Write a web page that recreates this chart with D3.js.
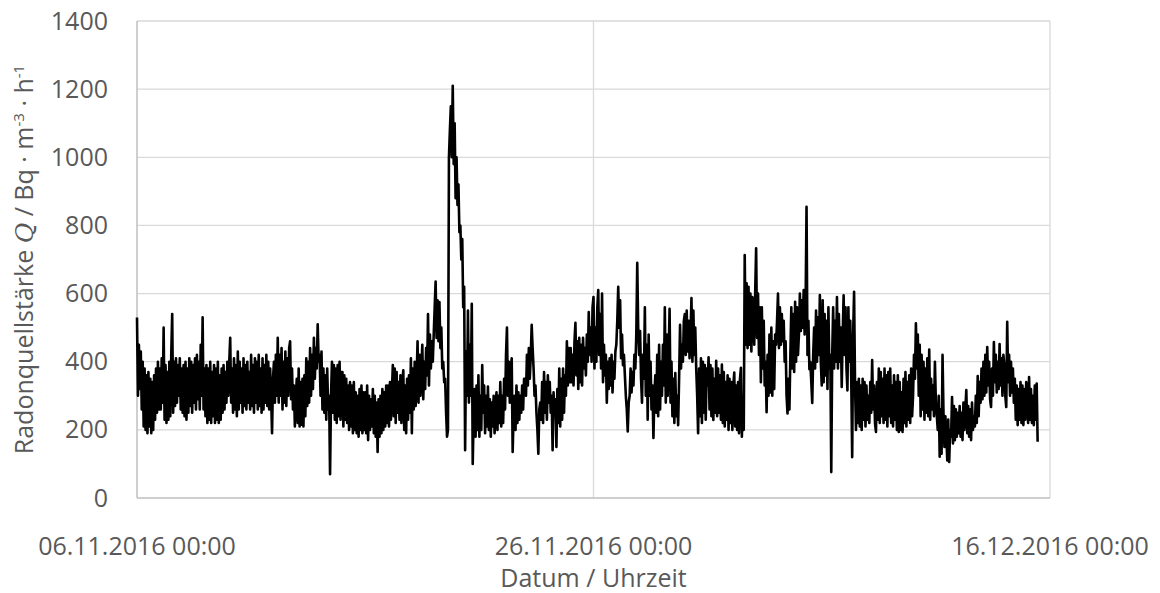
<script src="https://d3js.org/d3.v7.min.js"></script>
<style>
  body { margin: 0; background: #fff; }
  text { font-family: "Open Sans", "Noto Sans", sans-serif; fill: #595959; }
</style>
<body>
<svg id="vis"></svg>
<script>
  var visWidth = 1160
  var visHeight = 593
  var margin = {top: 21, right: 110, bottom: 95, left: 137}

  // measurement start and spacing of the readings (hours)
  var startTime = Date.UTC(2016, 10, 6, 0, 0)
  var stepHours = 1

  // Radon source strength Q, hourly readings, one row per day
  var week1 = [
    530, 300, 450, 320, 430, 260, 400, 210, 380, 200, 360, 190, 370, 210, 350, 190, 340, 200, 360, 230, 380, 250, 400, 260,   // 06.11
    380, 260, 410, 280, 500, 230, 390, 220, 370, 230, 400, 240, 420, 540, 250, 400, 270, 410, 280, 390, 300, 410, 260, 380,
    250, 390, 240, 400, 230, 380, 250, 410, 270, 400, 250, 390, 280, 410, 260, 420, 290, 400, 260, 450, 300, 530, 260, 380,
    240, 390, 220, 380, 230, 400, 220, 370, 240, 390, 220, 380, 230, 400, 220, 360, 230, 380, 250, 390, 260, 370, 280, 400,
    300, 400, 470, 280, 380, 250, 410, 260, 390, 240, 430, 260, 400, 280, 380, 250, 410, 270, 390, 260, 400, 280, 370, 260,
    420, 270, 390, 250, 410, 280, 400, 260, 420, 270, 380, 250, 410, 260, 390, 280, 420, 270, 400, 260, 380, 300, 190, 350,
    400, 280, 420, 300, 470, 280, 420, 300, 440, 260, 400, 280, 430, 270, 410, 300, 440, 460, 290, 380, 260, 330, 210, 300
  ]
  var week2 = [
    350, 220, 380, 210, 340, 215, 350, 210, 360, 240, 410, 270, 400, 280, 440, 300, 420, 320, 470, 350, 440, 380, 510, 400,   // 13.11
    420, 300, 430, 260, 380, 250, 360, 230, 380, 260, 300, 70, 300, 400, 250, 390, 230, 380, 220, 390, 240, 400, 230, 370,
    370, 210, 360, 230, 350, 220, 330, 200, 340, 210, 330, 190, 340, 200, 310, 190, 300, 180, 320, 200, 330, 190, 310, 200,
    310, 190, 330, 170, 300, 200, 290, 210, 320, 190, 300, 180, 280, 135, 290, 180, 300, 190, 320, 200, 310, 210, 330, 220,
    330, 210, 340, 230, 310, 390, 240, 380, 220, 370, 250, 340, 230, 360, 220, 340, 375, 200, 330, 190, 350, 230, 360, 250,
    410, 190, 380, 260, 400, 270, 350, 460, 280, 420, 300, 380, 450, 290, 400, 320, 440, 360, 540, 330, 480, 380, 460, 400,
    480, 560, 635, 470, 580, 460, 575, 440, 500, 380, 400, 340, 350, 250, 180, 200, 1000, 1080, 1150, 1000, 1210, 980, 1100, 880
  ]
  var week3 = [
    1000, 860, 920, 780, 800, 700, 760, 560, 620, 140, 430, 300, 550, 280, 450, 300, 570, 100, 250, 320, 180, 330, 200, 360,   // 20.11
    180, 300, 200, 390, 250, 330, 190, 300, 210, 327, 200, 290, 180, 280, 210, 300, 190, 270, 310, 200, 300, 220, 340, 210,
    300, 220, 350, 260, 420, 500, 300, 400, 280, 380, 410, 135, 250, 300, 200, 330, 220, 310, 230, 300, 250, 330, 260, 350,
    350, 300, 420, 330, 440, 350, 414, 508, 440, 380, 300, 330, 250, 200, 130, 260, 280, 230, 340, 220, 370, 250, 340, 230,
    360, 280, 340, 250, 300, 140, 310, 240, 290, 150, 320, 220, 380, 210, 350, 230, 380, 250, 360, 300, 460, 330, 440, 340,
    440, 340, 420, 330, 460, 514, 360, 460, 320, 470, 340, 450, 330, 470, 380, 440, 360, 480, 400, 546, 420, 500, 400, 560,
    590, 380, 500, 400, 560, 610, 420, 540, 380, 600, 340, 450, 360, 420, 280, 400, 320, 410, 330, 420, 310, 400, 350, 430    // 26.11
  ]
  var week4 = [
    450, 520, 620, 500, 580, 410, 480, 390, 420, 360, 300, 260, 195, 280, 300, 380, 310, 370, 330, 420, 380, 480, 690, 500,   // 27.11
    420, 490, 350, 280, 420, 350, 560, 300, 450, 230, 480, 300, 400, 260, 330, 176, 300, 360, 250, 420, 240, 450, 260, 400,
    300, 450, 330, 560, 280, 480, 300, 420, 555, 280, 400, 240, 350, 220, 367, 240, 300, 214, 350, 508, 380, 450, 400, 520,
    540, 420, 550, 430, 520, 410, 480, 587, 400, 550, 420, 500, 380, 300, 190, 380, 240, 410, 220, 400, 250, 390, 230, 380,
    330, 413, 260, 390, 240, 380, 229, 350, 250, 403, 240, 380, 250, 360, 230, 392, 220, 370, 210, 340, 230, 360, 200, 350,
    220, 340, 200, 330, 368, 210, 330, 200, 340, 190, 350, 382, 180, 300, 200, 713, 450, 630, 440, 620, 450, 600, 430, 590,
    580, 450, 600, 733, 470, 600, 420, 560, 340, 560, 380, 520, 330, 400, 252, 420, 300, 480, 310, 500, 300, 460, 320, 480
  ]
  var week5 = [
    450, 520, 600, 440, 560, 450, 540, 460, 520, 400, 460, 300, 248, 350, 260, 420, 560, 380, 540, 370, 576, 400, 560, 420,   // 04.12
    480, 600, 490, 580, 500, 610, 480, 560, 855, 420, 520, 378, 400, 340, 279, 420, 500, 380, 550, 400, 530, 420, 596, 400,
    330, 580, 340, 540, 360, 520, 320, 560, 380, 420, 76, 420, 560, 380, 520, 400, 590, 380, 540, 400, 500, 326, 480, 595,
    420, 560, 380, 316, 560, 400, 520, 350, 120, 480, 605, 330, 200, 340, 220, 350, 210, 330, 200, 350, 230, 340, 210, 330,
    230, 300, 220, 340, 250, 405, 260, 330, 220, 194, 340, 230, 380, 220, 370, 240, 350, 220, 380, 230, 360, 210, 370, 240,
    380, 220, 330, 210, 360, 230, 340, 200, 360, 194, 340, 200, 310, 194, 350, 220, 370, 210, 340, 230, 360, 220, 380, 240,
    300, 420, 350, 513, 380, 480, 300, 450, 240, 420, 260, 400, 230, 380, 250, 410, 240, 436, 230, 350, 260, 330, 240, 400
  ]
  var week6 = [
    280, 240, 200, 300, 121, 260, 130, 420, 250, 150, 240, 180, 110, 230, 106, 200, 180, 296, 160, 270, 170, 260, 180, 250,   // 11.12
    190, 270, 180, 250, 170, 280, 200, 260, 317, 190, 270, 180, 260, 170, 280, 200, 240, 210, 300, 220, 358, 240, 340, 280,
    380, 290, 400, 300, 420, 310, 443, 330, 400, 290, 267, 380, 300, 458, 340, 420, 310, 400, 320, 452, 330, 410, 300, 420,
    390, 300, 267, 517, 340, 420, 300, 400, 310, 380, 280, 350, 230, 330, 214, 320, 230, 340, 220, 330, 214, 320, 230, 340,
    300, 220, 355, 230, 320, 220, 300, 214, 330, 230, 336, 165                                                              // 15.12
  ]
  var radonQ = week1.concat(week2, week3, week4, week5, week6)

  var xTicks = [Date.UTC(2016, 10, 6), Date.UTC(2016, 10, 26), Date.UTC(2016, 11, 16)]
  var yTicks = [0, 200, 400, 600, 800, 1000, 1200, 1400]
  var xTitle = 'Datum / Uhrzeit'

  var svg = d3.select('#vis')
    .attr('width', visWidth)
    .attr('height', visHeight)

  var x = d3.scaleUtc()
    .domain([xTicks[0], xTicks[2]])
    .range([margin.left, visWidth - margin.right])

  var y = d3.scaleLinear()
    .domain([0, 1400])
    .range([visHeight - margin.bottom, margin.top])

  var data = radonQ.map((v, i) => ({t: new Date(startTime + i * stepHours * 3600000), q: v}))

  // gridlines
  svg.append('g').selectAll('line')
    .data(yTicks.slice(1))
    .enter().append('line')
    .attr('x1', x.range()[0]).attr('x2', x.range()[1])
    .attr('y1', d => y(d)).attr('y2', d => y(d))
    .attr('stroke', '#d9d9d9').attr('stroke-width', 1.3)

  svg.append('g').selectAll('line')
    .data(xTicks.slice(1))
    .enter().append('line')
    .attr('x1', d => x(d)).attr('x2', d => x(d))
    .attr('y1', y(0)).attr('y2', y(1400))
    .attr('stroke', '#d9d9d9').attr('stroke-width', 1.3)

  // axis lines
  svg.append('line')
    .attr('x1', x.range()[0]).attr('x2', x.range()[0])
    .attr('y1', y(0)).attr('y2', y(1400))
    .attr('stroke', '#bfbfbf').attr('stroke-width', 1.5)
  svg.append('line')
    .attr('x1', x.range()[0]).attr('x2', x.range()[1])
    .attr('y1', y(0)).attr('y2', y(0))
    .attr('stroke', '#bfbfbf').attr('stroke-width', 1.5)

  // data line
  var line = d3.line()
    .x(d => x(d.t))
    .y(d => y(d.q))

  svg.append('path')
    .datum(data)
    .attr('d', line)
    .attr('fill', 'none')
    .attr('stroke', '#000')
    .attr('stroke-width', 2.6)
    .attr('stroke-linejoin', 'round')

  // y tick labels
  var yAxis = svg.append('g')
    .attr('transform', 'translate(' + margin.left + ',0)')
    .call(d3.axisLeft(y).tickValues(yTicks).tickFormat(d3.format('d')).tickSize(0).tickPadding(29))
  yAxis.select('.domain').remove()
  yAxis.selectAll('text')
    .style('font-size', '25px')
    .style('font-family', '"Open Sans", sans-serif')
    .attr('fill', '#595959')

  // x tick labels
  var fmt = d3.utcFormat('%d.%m.%Y %H:%M')
  svg.append('g').selectAll('text')
    .data(xTicks)
    .enter().append('text')
    .attr('x', d => x(d))
    .attr('y', 555)
    .attr('text-anchor', 'middle')
    .style('font-size', '25px')
    .text(d => fmt(new Date(d)))

  svg.append('text')
    .attr('x', x(xTicks[1]))
    .attr('y', 587)
    .attr('text-anchor', 'middle')
    .style('font-size', '25px')
    .text(xTitle)

  // y title with italic Q and superscripts
  var yt = svg.append('text')
    .attr('transform', 'translate(33,' + ((margin.top + visHeight - margin.bottom) / 2) + ') rotate(-90)')
    .attr('text-anchor', 'middle')
    .style('font-size', '25px')
  yt.append('tspan').text('Radonquellstärke ')
  yt.append('tspan').text('Q').style('font-style', 'italic').style('font-family', '"DejaVu Serif", serif')
  yt.append('tspan').text(' / Bq · m')
  yt.append('tspan').text('-3').attr('dy', -9).style('font-size', '15px')
  yt.append('tspan').text(' · h').attr('dy', 9)
  yt.append('tspan').text('-1').attr('dy', -9).style('font-size', '15px')
</script>
</body>
